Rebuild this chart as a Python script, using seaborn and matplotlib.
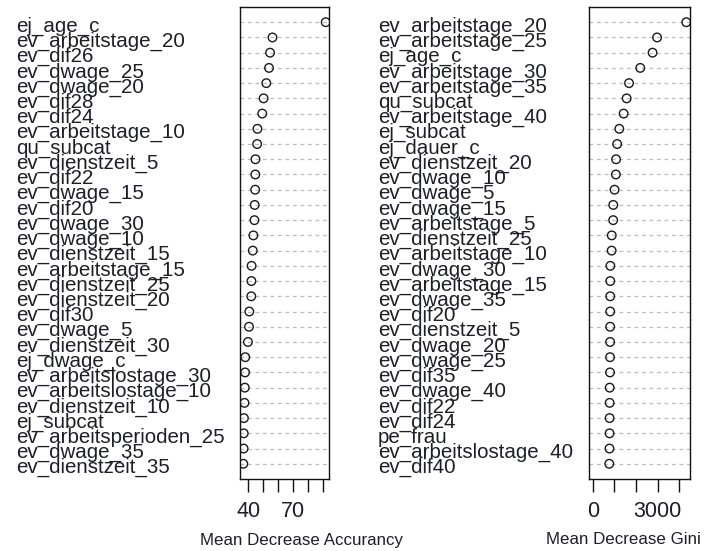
import matplotlib
matplotlib.use("Agg")
import matplotlib.pyplot as plt
import seaborn as sns
import numpy as np
import pandas as pd

sns.set_theme(style="white")
plt.rcParams['font.family'] = ['Liberation Sans', 'DejaVu Sans']

acc_labels = ["ej_age_c", "ev_arbeitstage_20", "ev_dif26", "ev_dwage_25", "ev_dwage_20",
              "ev_dif28", "ev_dif24", "ev_arbeitstage_10", "qu_subcat", "ev_dienstzeit_5",
              "ev_dif22", "ev_dwage_15", "ev_dif20", "ev_dwage_30", "ev_dwage_10",
              "ev_dienstzeit_15", "ev_arbeitstage_15", "ev_dienstzeit_25", "ev_dienstzeit_20",
              "ev_dif30", "ev_dwage_5", "ev_dienstzeit_30", "ej_dwage_c", "ev_arbeitslostage_30",
              "ev_arbeitslostage_10", "ev_dienstzeit_10", "ej_subcat", "ev_arbeitsperioden_25",
              "ev_dwage_35", "ev_dienstzeit_35"]
acc_values = [91.5, 56.1, 54.5, 53.8, 52.0, 50.2, 49.3, 46.1, 45.9, 44.8,
              44.7, 44.6, 44.3, 44.1, 43.4, 43.0, 42.2, 42.1, 42.0, 40.7,
              40.5, 39.8, 38.0, 37.9, 37.7, 37.5, 37.1, 37.0, 36.9, 36.7]

gini_labels = ["ev_arbeitstage_20", "ev_arbeitstage_25", "ej_age_c", "ev_arbeitstage_30",
               "ev_arbeitstage_35", "qu_subcat", "ev_arbeitstage_40", "ej_subcat", "ej_dauer_c",
               "ev_dienstzeit_20", "ev_dwage_10", "ev_dwage_5", "ev_dwage_15", "ev_arbeitstage_5",
               "ev_dienstzeit_25", "ev_arbeitstage_10", "ev_dwage_30", "ev_arbeitstage_15",
               "ev_dwage_35", "ev_dif20", "ev_dienstzeit_5", "ev_dwage_20", "ev_dwage_25",
               "ev_dif35", "ev_dwage_40", "ev_dif22", "ev_dif24", "pe_frau",
               "ev_arbeitslostage_40", "ev_dif40"]
gini_values = [4330, 2980, 2770, 2200, 1680, 1570, 1430, 1230, 1130, 1080,
               1070, 1010, 950, 945, 880, 875, 815, 812, 810, 808,
               806, 804, 802, 800, 785, 783, 781, 779, 777, 765]

acc_ticks = [40, 50, 60, 70, 80, 90]
acc_ticklabels = ["40", "", "", "70", "", ""]
gini_ticks = [0, 1000, 2000, 3000, 4000]
gini_ticklabels = ["0", "", "", "3000", ""]

W, H = 705, 551
fig = plt.figure(figsize=(W / 100, H / 100), dpi=100)

text_col = "#1e1e28"


def panel(left_px, right_px, labels, values, lab_x_px, xmin_zero, ticks, ticklabels,
          title, title_x_px):
    top_px, bot_px = 7, 479
    ax = fig.add_axes([left_px / W, 1 - bot_px / H, (right_px - left_px) / W,
                       (bot_px - top_px) / H])
    n = len(labels)
    df = pd.DataFrame({"label": labels, "value": values, "pos": np.arange(1, n + 1)})
    for p in df["pos"]:
        ax.axhline(p, color="#bdbdbd", lw=0.9, ls=(0, (3, 3)), zorder=1)
    sns.scatterplot(data=df, x="value", y="pos", ax=ax, marker="o", s=38,
                    facecolor="none", edgecolor="#1a1a1a", linewidth=1.0, zorder=3,
                    legend=False)
    lo = 0 if xmin_zero else min(values)
    hi = max(values)
    pad = 0.04 * (hi - lo)
    ax.set_xlim(lo - pad, hi + pad)
    ax.set_ylim(n + 1, 0)
    ax.set_yticks([])
    ax.set_xticks(ticks)
    ax.set_xticklabels(ticklabels)
    ax.tick_params(axis="x", direction="out", length=9, width=1.0, color="#111111",
                   pad=7, labelsize=15.5, labelcolor=text_col, bottom=True)
    ax.set_xlabel("")
    ax.set_ylabel("")
    for s in ax.spines.values():
        s.set_visible(True)
        s.set_color("#111111")
        s.set_linewidth(1.0)
    for lab, p in zip(df["label"], df["pos"]):
        ax.text(lab_x_px / W, p + 0.62, lab, transform=ax.get_yaxis_transform() if False else
                matplotlib.transforms.blended_transform_factory(fig.transFigure, ax.transData),
                ha="left", va="baseline", fontsize=14.8, color=text_col, clip_on=False)
    fig.text(title_x_px / W, 1 - 540 / H, title, ha="center", va="center",
             fontsize=12.2, color=text_col)
    return ax


panel(240, 329, acc_labels, acc_values, 16, False, acc_ticks, acc_ticklabels,
      "Mean Decrease Accurancy", 301)
panel(589, 690, gini_labels, gini_values, 378, True, gini_ticks, gini_ticklabels,
      "Mean Decrease Gini", 623)

fig.savefig("out.png", dpi=100)
